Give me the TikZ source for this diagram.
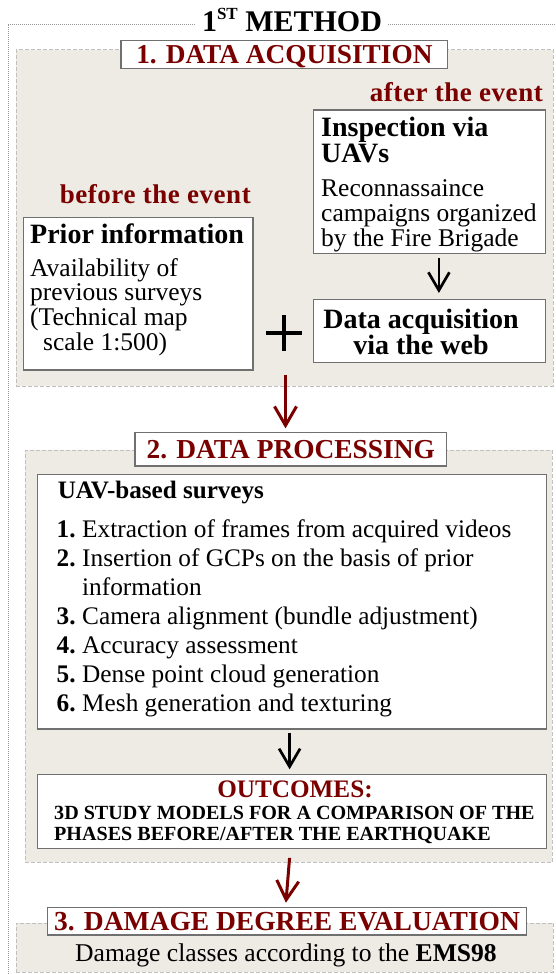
\documentclass[tikz,border=0pt]{standalone}
\usepackage{fontspec}
\setmainfont{Liberation Serif}
\usetikzlibrary{arrows.meta}

\definecolor{dred}{RGB}{122,0,0}
\definecolor{panel}{RGB}{238,234,228}
\definecolor{panelline}{RGB}{192,192,192}
\definecolor{boxline}{RGB}{112,112,112}
\definecolor{frameline}{RGB}{150,150,150}

% size / letter spacing helpers
\newcommand\fsz[2]{\fontsize{#1}{#2}\selectfont}
\newcommand\lsp[1]{\addfontfeature{LetterSpace=#1}}
\newcommand\itemno[1]{\makebox[25.5pt][l]{\bfseries #1}}

\begin{document}
\begin{tikzpicture}[x=1pt,y=-1pt,
  panelbox/.style={draw=panelline, fill=panel, line width=0.8pt,
    dash pattern=on 4pt off 2pt, anchor=north west, inner sep=0pt},
  whitebox/.style={draw=boxline, fill=white, line width=1.2pt,
    anchor=north west, inner sep=0pt},
  titlebox/.style={draw=boxline, fill=white, line width=1.2pt,
    anchor=base, inner xsep=0pt, inner ysep=0pt, text=dred},
  txt/.style={inner sep=0pt},
  redarrow/.style={draw=dred, line width=3pt,
    -{Straight Barb[length=19pt,width=22pt]}},
  blkarrow/.style={draw=black, line width=2.7pt,
    -{Straight Barb[length=18pt,width=21pt]}},
]
\useasboundingbox (0,0) rectangle (555,974);

% outer dotted frame of the method
\draw[frameline, line width=0.9pt, dash pattern=on 1pt off 1pt]
  (8.3,1000) -- (8.3,24) -- (600,24);
\node[fill=white, inner xsep=6pt, inner ysep=2pt, anchor=base] (method) at (292,31.7)
  {\fsz{30}{30}\bfseries1\raisebox{0.42em}{\fsz{17}{17}ST} METHOD};

% ---------- 1. data acquisition ----------
\node[panelbox, minimum width=537pt, minimum height=336.7pt] (sec1) at (15.7,49.3) {};
\node[titlebox, minimum width=326.7pt, text height=22.6pt, text depth=5pt] (t1)
  at (284.4,63.3) {\fsz{27.3}{27.3}\bfseries 1. DATA ACQUISITION};

\node[txt, anchor=base east, text=dred] (after) at (543,101.7)
  {\fsz{27}{27}\bfseries\lsp{2}after the event};
\node[txt, anchor=base east, text=dred] (before) at (251,203)
  {\fsz{27}{27}\bfseries\lsp{2}before the event};

\node[whitebox, minimum width=232.3pt, minimum height=143.4pt] (insp) at (312.7,109.3) {};
\node[txt, anchor=base west] (inspT) at (321,136)
  {\fsz{28}{25.7}\bfseries\begin{tabular}[t]{@{}l@{}}Inspection via\\UAVs\end{tabular}};
\node[txt, anchor=base west] (inspB) at (321,196.7)
  {\fsz{25.5}{23.5}\begin{tabular}[t]{@{}l@{}}Reconnassaince\\campaigns organized\\by the Fire Brigade\end{tabular}};

\node[whitebox, minimum width=229.6pt, minimum height=152.6pt] (prior) at (22.7,216.7) {};
\node[txt, anchor=base west] (priorT) at (30,243)
  {\fsz{28}{28}\bfseries Prior information};
\node[txt, anchor=base west] (priorB) at (30,276.7)
  {\fsz{25.5}{24.2}\begin{tabular}[t]{@{}l@{}}Availability of\\previous surveys\\(Technical map\\\hspace*{13pt}scale 1:500)\end{tabular}};

\node[whitebox, minimum width=232.3pt, minimum height=63pt] (web) at (312.7,298.7) {};
\node[txt, anchor=base] (webT) at (421,328)
  {\fsz{28}{22.3}\bfseries\begin{tabular}[t]{@{}c@{}}Data acquisition\\via the web\end{tabular}};

% plus sign joining the two sources
\draw[line width=4pt] (266.3,333.3) -- (302.3,333.3) (284.3,315.3) -- (284.3,351.3);

\draw[blkarrow, shorten <=4pt, shorten >=5.7pt]
  ([xshift=9.45pt]insp.south) -- ([xshift=9.45pt]web.north);

% ---------- 2. data processing ----------
\node[panelbox, minimum width=527.5pt, minimum height=411.7pt] (sec2) at (24.5,450) {};
\node[titlebox, minimum width=311.7pt, text height=25.6pt, text depth=7.7pt] (t2)
  at (290.85,458.3) {\fsz{27.4}{27.4}\bfseries 2. DATA PROCESSING};

\coordinate (plusfoot) at (285.5,375);
\draw[redarrow, shorten >=3.7pt] (plusfoot) -- (plusfoot |- t2.north);

\node[whitebox, minimum width=508.8pt, minimum height=254.3pt] (uav) at (36.8,474) {};
\node[txt, anchor=base west] (uavT) at (57.6,498.3)
  {\fsz{25.1}{25.1}\bfseries UAV-based surveys};
\node[txt, anchor=base west] (uavL) at (56.5,537.3)
  {\fsz{25.3}{29.07}\begin{tabular}[t]{@{}l@{}}
   \itemno{1.}Extraction of frames from acquired videos\\
   \itemno{2.}Insertion of GCPs on the basis of prior\\
   \itemno{}information\\
   \itemno{3.}Camera alignment (bundle adjustment)\\
   \itemno{4.}Accuracy assessment\\
   \itemno{5.}Dense point cloud generation\\
   \itemno{6.}Mesh generation and texturing
  \end{tabular}};

\node[whitebox, minimum width=508.8pt, minimum height=73.7pt] (out) at (36.8,774) {};
\node[txt, anchor=base, text=dred] (outT) at (295,797.3)
  {\fsz{25.2}{25.2}\bfseries OUTCOMES:};
\node[txt, anchor=base west] (outB) at (54,819.5)
  {\fsz{20.1}{20.8}\bfseries\begin{tabular}[t]{@{}l@{}}3D STUDY MODELS FOR A COMPARISON OF THE\\PHASES BEFORE/AFTER THE EARTHQUAKE\end{tabular}};

\draw[blkarrow, shorten <=3.4pt, shorten >=4.7pt]
  ([xshift=-2.2pt]uav.south) -- ([xshift=-2.2pt]out.north);

% ---------- 3. damage degree evaluation ----------
\node[panelbox, minimum width=537pt, minimum height=49.5pt] (sec3) at (15.7,922.5) {};
\node[titlebox, minimum width=478.8pt, text height=23.4pt, text depth=4.3pt] (t3)
  at (287.1,930.7) {\fsz{27.5}{27.5}\bfseries 3. DAMAGE DEGREE EVALUATION};
\node[txt, anchor=base west] (dmg) at (75,961.7)
  {\fsz{25.6}{25.6}Damage classes according to the \textbf{EMS98}};

\draw[redarrow, shorten <=9pt, shorten >=4pt]
  ([xshift=-1.5pt]out.south) -- ([xshift=-1.5pt]t3.north);
\end{tikzpicture}
\end{document}
